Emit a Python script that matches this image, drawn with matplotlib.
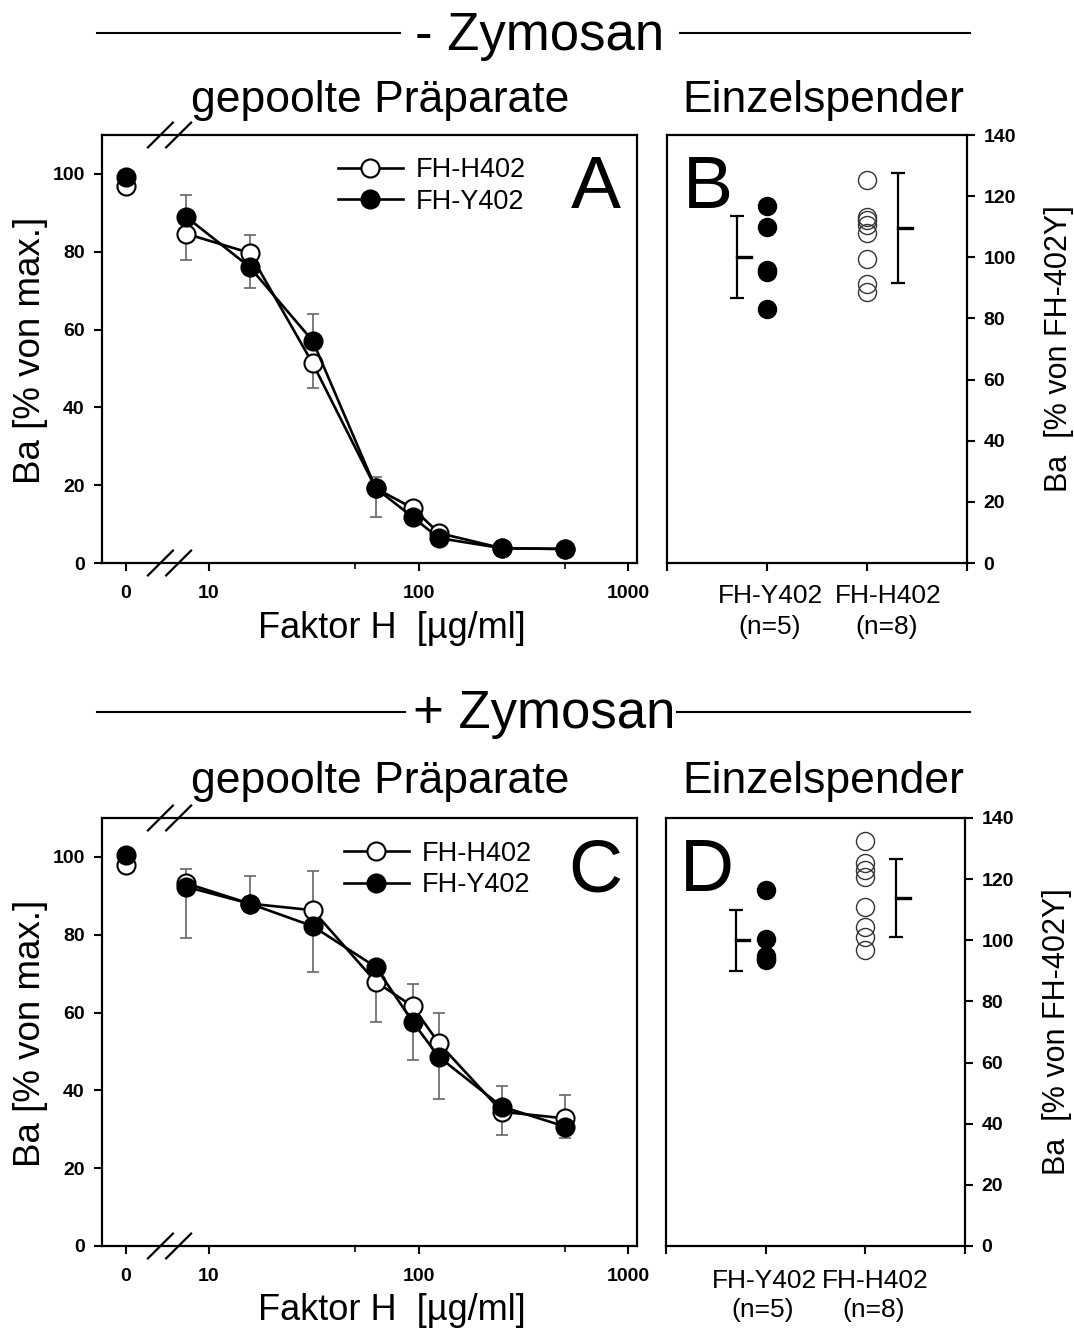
import numpy as np
import matplotlib
matplotlib.use('Agg')
import matplotlib.pyplot as plt
from matplotlib.lines import Line2D

plt.rcParams['font.family'] = ['Liberation Sans', 'DejaVu Sans']

# ---------------- data ----------------
conc = [0, 7.8125, 15.625, 31.25, 62.5, 93.75, 125, 250, 500]

# Panel A (- Zymosan, pooled)
a_h402 = [96.8, 84.6, 79.7, 51.3, 19.2, 14.1, 7.7, 3.8, 3.6]
a_h402_lo = [0, 6.7, 0, 6.4, 7.4, 0, 0, 0, 0]
a_h402_hi = [0, 0, 4.5, 0, 0, 0, 0, 0, 0]
a_y402 = [99.3, 88.9, 76.1, 57.1, 19.2, 11.8, 6.4, 3.8, 3.6]
a_y402_lo = [0, 0, 5.4, 0, 0, 0, 0, 0, 0]
a_y402_hi = [0, 5.8, 0, 7.0, 3.0, 0, 0, 0, 0]

# Panel C (+ Zymosan, pooled)
c_h402 = [97.9, 93.2, 88.0, 86.3, 67.9, 61.6, 52.1, 34.5, 32.8]
c_h402_lo = [0, 0, 0, 0, 10.3, 0, 0, 6.0, 0]
c_h402_hi = [0, 3.6, 7.1, 10.1, 0, 5.7, 7.9, 0, 6.0]
c_y402 = [100.4, 92.3, 88.0, 82.2, 71.7, 57.6, 48.6, 35.8, 30.7]
c_y402_lo = [0, 13.1, 0, 11.7, 0, 9.7, 10.7, 0, 2.9]
c_y402_hi = [0, 0, 0, 0, 0, 0, 0, 5.4, 0]

# Panel B (- Zymosan, single donors)
cat_names = ['FH-Y402', 'FH-H402']
cat_n = ['(n=5)', '(n=8)']
b_y402 = [116.8, 110.0, 96.0, 95.3, 83.0]
b_h402 = [125.3, 113.3, 112.2, 110.5, 108.1, 99.3, 91.2, 88.8]
b_mean = [100.0, 109.6]
b_sd = [13.35, 18.1]

# Panel D (+ Zymosan, single donors)
d_y402 = [116.4, 100.5, 94.9, 94.0, 93.4]
d_h402 = [132.5, 125.2, 123.0, 120.8, 110.9, 104.4, 101.1, 96.7]
d_mean = [100.0, 113.9]
d_sd = [9.9, 12.75]

xticks_main = [0, 10, 100, 1000]
xticks_minor = [50, 500]
yticks_left = [0, 20, 40, 60, 80, 100]
yticks_right = [0, 20, 40, 60, 80, 100, 120, 140]

# ---------------- layout ----------------
W, H = 1074, 1329
fig = plt.figure(figsize=(W / 100, H / 100), dpi=100)


def fx(x):
    return x / W


def fy(y):
    return 1 - y / H


ZERO_POS = 0.602  # position (in decades) where concentration 0 is drawn


def fwd(x):
    x = np.asarray(x, dtype=float)
    return np.where(x > 0, np.log10(np.maximum(x, 1e-12)), ZERO_POS)


def inv(u):
    return 10 ** np.asarray(u, dtype=float)


TICKFONT = dict(fontsize=14, fontweight='bold')
ERRCOL = '#666666'
MS = 13


def curve_panel(ax, h, h_lo, h_hi, y, y_lo, y_hi, letter, leg_xy):
    ax.set_xscale('function', functions=(fwd, inv))
    cx = np.array(conc, dtype=float)
    for vals, lo, hi in ((h, h_lo, h_hi), (y, y_lo, y_hi)):
        vals = np.array(vals); lo = np.array(lo); hi = np.array(hi)
        m = (lo > 0) | (hi > 0)
        ax.errorbar(cx[m], vals[m], yerr=[lo[m], hi[m]], fmt='none',
                    ecolor=ERRCOL, elinewidth=1.2, capsize=4.5, capthick=1.2, zorder=2)
    ax.plot(cx[1:], h[1:], '-', color='black', lw=1.9, zorder=3)
    ax.plot(cx, h, 'o', ms=MS, mfc='white', mec='black', mew=1.5, zorder=4)
    ax.plot(cx[1:], y[1:], '-', color='black', lw=1.9, zorder=5)
    ax.plot(cx, y, 'o', ms=MS, mfc='black', mec='black', mew=1.5, zorder=6)

    hh = Line2D([], [], color='black', lw=1.9, marker='o', ms=MS, mfc='white', mec='black', mew=1.5)
    hy = Line2D([], [], color='black', lw=1.9, marker='o', ms=MS, mfc='black', mec='black', mew=1.5)
    ax.legend([hh, hy], ['FH-H402', 'FH-Y402'], loc='center left', bbox_to_anchor=leg_xy,
              frameon=False, fontsize=19.5, handlelength=2.4, handletextpad=0.5,
              borderpad=0, borderaxespad=0, labelspacing=0.2)

    ax.set_xticks(xticks_main)
    ax.set_xticklabels([str(t) for t in xticks_main], **TICKFONT)
    ax.set_xticks(xticks_minor, minor=True)
    ax.set_xticklabels([], minor=True)
    ax.set_xlim(10 ** 0.4874, 10 ** 3.042)
    ax.set_ylim(0, 110)
    ax.set_yticks(yticks_left)
    ax.set_yticklabels([str(t) for t in yticks_left], **TICKFONT)
    ax.tick_params(axis='both', which='major', direction='out', length=6, width=1.5)
    ax.tick_params(axis='x', which='minor', direction='out', length=4, width=1.2)
    ax.tick_params(axis='x', which='major', pad=10)
    ax.tick_params(axis='y', pad=6)
    for s in ax.spines.values():
        s.set_linewidth(1.6)
    ax.text(0.923, 0.875, letter, transform=ax.transAxes, fontsize=54,
            ha='center', va='center')
    for xc in (0.110, 0.144):
        for yb in (0.0, 1.0):
            ax.add_line(Line2D([xc - 0.0233, xc + 0.0233], [yb - 0.029, yb + 0.029],
                               transform=ax.transAxes, color='black', lw=1.6, clip_on=False))


def donor_panel(ax, yv, hv, mean, sd, letter):
    ax.set_xlim(0, 3)
    ax.set_ylim(0, 140)
    ax.plot([1] * len(yv), yv, 'o', ms=MS, mfc='black', mec='black', mew=1, zorder=4)
    ax.plot([2] * len(hv), hv, 'o', ms=MS, mfc='none', mec='#333333', mew=1.0, zorder=4)
    ex = [0.70, 2.31]
    ax.errorbar(ex, mean, yerr=sd, fmt='none', ecolor='black', elinewidth=1.6,
                capsize=5, capthick=1.6, zorder=3)
    for x0, m in zip(ex, mean):
        ax.plot([x0, x0 + 0.135], [m, m], '-', color='black', lw=2.4, zorder=3)
    ax.set_xticks([0, 1, 2, 3])
    ax.set_xticklabels([])
    ax.yaxis.tick_right()
    ax.yaxis.set_label_position('right')
    ax.set_yticks(yticks_right)
    ax.set_yticklabels([str(t) for t in yticks_right], **TICKFONT)
    ax.tick_params(axis='both', direction='out', length=6, width=1.5)
    ax.tick_params(axis='y', pad=6)
    ax.set_ylabel('Ba  [% von FH-402Y]', fontsize=22, labelpad=20)
    for s in ax.spines.values():
        s.set_linewidth(1.6)
    ax.text(0.137, 0.875, letter, transform=ax.transAxes, fontsize=54,
            ha='center', va='center')


axA = fig.add_axes([fx(101.5), fy(563), fx(637) - fx(101.5), fy(135) - fy(563)])
axB = fig.add_axes([fx(667), fy(563), fx(967) - fx(667), fy(135) - fy(563)])
axC = fig.add_axes([fx(101.5), fy(1246), fx(637) - fx(101.5), fy(818) - fy(1246)])
axD = fig.add_axes([fx(666), fy(1246), fx(965) - fx(666), fy(818) - fy(1246)])

curve_panel(axA, a_h402, a_h402_lo, a_h402_hi, a_y402, a_y402_lo, a_y402_hi, 'A', (0.441, 0.881))
curve_panel(axC, c_h402, c_h402_lo, c_h402_hi, c_y402, c_y402_lo, c_y402_hi, 'C', (0.452, 0.880))
donor_panel(axB, b_y402, b_h402, b_mean, b_sd, 'B')
donor_panel(axD, d_y402, d_h402, d_mean, d_sd, 'D')

# category labels under donor panels
for (xs, y1, y2) in (((771, 888), 596, 627), ((764, 875), 1281, 1310)):
    for xc, nm, nn in zip(xs, cat_names, cat_n):
        fig.text(fx(xc), fy(y1), nm, fontsize=19, ha='center', va='center')
        fig.text(fx(xc - 1), fy(y2), nn, fontsize=19, ha='center', va='center')

# ---------------- figure texts ----------------
fig.text(fx(540), fy(50), '- Zymosan', fontsize=38, ha='center', va='baseline')
fig.text(fx(544), fy(728), '+ Zymosan', fontsize=38, ha='center', va='baseline')
for (x0, x1, yy) in ((97, 400, 33), (680, 970, 33), (97, 405, 712), (677, 970, 712)):
    fig.add_artist(Line2D([fx(x0), fx(x1)], [fy(yy), fy(yy)], color='black', lw=1.5))

for yb in (112, 793):
    fig.text(fx(380), fy(yb), 'gepoolte Präparate', fontsize=32, ha='center', va='baseline')
    fig.text(fx(823), fy(yb), 'Einzelspender', fontsize=32, ha='center', va='baseline')

fig.text(fx(392), fy(638), 'Faktor H  [µg/ml]', fontsize=26, ha='center', va='baseline')
fig.text(fx(392), fy(1320), 'Faktor H  [µg/ml]', fontsize=26, ha='center', va='baseline')
fig.text(fx(31), fy(350), 'Ba [% von max.]', fontsize=26.5, ha='center', va='center', rotation=90)
fig.text(fx(31), fy(1033), 'Ba [% von max.]', fontsize=26.5, ha='center', va='center', rotation=90)

fig.savefig('out.png', dpi=100)
